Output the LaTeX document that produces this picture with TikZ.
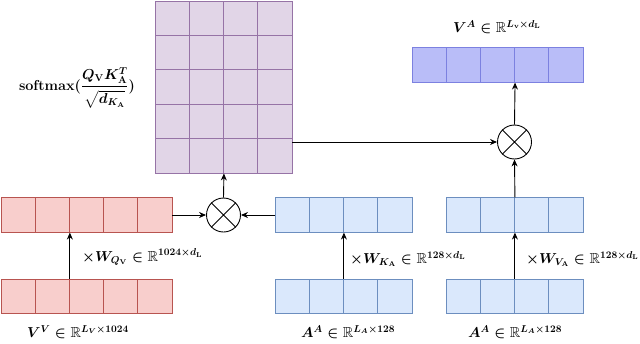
\documentclass[tikz,border=0pt]{standalone}
\usepackage{amsmath,amssymb}
\usetikzlibrary{arrows.meta}

\definecolor{redfill}{HTML}{F8CECC}
\definecolor{redline}{HTML}{B85450}
\definecolor{bluefill}{HTML}{DAE8FC}
\definecolor{blueline}{HTML}{6C8EBF}
\definecolor{purfill}{HTML}{E1D5E7}
\definecolor{purline}{HTML}{9673A6}
\definecolor{outfill}{HTML}{B9BDF8}
\definecolor{outline}{HTML}{7C81E0}

\tikzset{
  cellbox/.style={draw, minimum width=34.2pt, minimum height=34.2pt, inner sep=0pt, line width=0.9pt},
  redcell/.style={cellbox, draw=redline, fill=redfill},
  bluecell/.style={cellbox, draw=blueline, fill=bluefill},
  purcell/.style={cellbox, minimum height=34.4pt, draw=purline, fill=purfill},
  outcell/.style={cellbox, draw=outline, fill=outfill},
  mulnode/.style={draw, circle, minimum size=34pt, inner sep=0pt, line width=0.9pt},
  lbl/.style={font=\fontsize{14.5}{17}\selectfont\boldmath, inner sep=1pt},
  arr/.style={-{Stealth[length=7pt,width=6pt]}, line width=0.9pt}
}

\begin{document}
\begin{tikzpicture}[x=1pt,y=-1pt]
    \useasboundingbox (0,0) rectangle (640,343);

    % Query side (red)
    \foreach \i in {1,...,5} {
        \node[redcell] (vq\i) at ({1+34.2*(\i-0.5)},215) {};
        \node[redcell] (vv\i) at ({1+34.2*(\i-0.5)},296.5) {};
    }

    % Key side (blue)
    \foreach \i in {1,...,4} {
        \node[bluecell] (ka\i) at ({275+34.25*(\i-0.5)},215) {};
        \node[bluecell] (ak\i) at ({275+34.25*(\i-0.5)},296.5) {};
    }

    % Value side (blue)
    \foreach \i in {1,...,4} {
        \node[bluecell] (vt\i) at ({446+34.25*(\i-0.5)},215) {};
        \node[bluecell] (av\i) at ({446+34.25*(\i-0.5)},296.5) {};
    }

    % Attention map
    \foreach \r in {1,...,5}
        \foreach \c in {1,...,4}
            \node[purcell] (att\r\c) at ({155+34.25*(\c-0.5)},{1+34.4*(\r-0.5)}) {};

    % Output row
    \foreach \i in {1,...,5}
        \node[outcell] (out\i) at ({412+34.2*(\i-0.5)},65) {};

    % Products
    \node[mulnode] (mull) at (223.5,215) {};
    \node[mulnode] (mulr) at (514.5,142) {};
    \foreach \m in {mull,mulr}
        \draw[line width=0.9pt] (\m.45) -- (\m.225) (\m.135) -- (\m.315);

    % Labels
    \node[lbl] (smax) at (77,88) {$\mathbf{softmax}(\displaystyle\frac{Q_{\mathrm{V}}K_{\mathrm{A}}^{T}\rule[-4pt]{0pt}{0pt}}{\rule{0pt}{15pt}\sqrt{d_{K_{\mathrm{A}}}}})$};
    \node[lbl] (vlab) at (497,27) {$V^{A}\in\mathbb{R}^{L_{\mathrm{v}}\times d_{\mathrm{L}}}$};
    \node[lbl, anchor=west] (wq) at (81,257) {$\times W_{Q_{\mathrm{V}}}\in\mathbb{R}^{1024\times d_{\mathrm{L}}}$};
    \node[lbl, anchor=west] (wk) at (349,259) {$\times W_{K_{\mathrm{A}}}\in\mathbb{R}^{128\times d_{\mathrm{L}}}$};
    \node[lbl, anchor=west] (wv) at (525,259) {$\times W_{V_{\mathrm{A}}}\in\mathbb{R}^{128\times d_{\mathrm{L}}}$};
    \node[lbl] (vvlab) at (78,332) {$V^{V}\in\mathbb{R}^{L_{V}\times 1024}$};
    \node[lbl] (aklab) at (348,332) {$A^{A}\in\mathbb{R}^{L_{A}\times 128}$};
    \node[lbl] (avlab) at (515,332) {$A^{A}\in\mathbb{R}^{L_{A}\times 128}$};

    % Connectors
    \draw[arr] (vv2.north east) -- (vq2.south east);
    \draw[arr] (ak2.north east) -- (ka2.south east);
    \draw[arr] (av2.north east) -- (vt2.south east);
    \draw[arr] (vt2.north east) -- (mulr.south);
    \draw[arr] (vq5.east) -- (mull.west);
    \draw[arr] (ka1.west) -- (mull.east);
    \draw[arr] (mull.north) -- (att52.south east);
    \draw[arr] (att54.east |- mulr.west) -- (mulr.west);
    \draw[arr] (mulr.north) -- (out3.south east);
\end{tikzpicture}
\end{document}
